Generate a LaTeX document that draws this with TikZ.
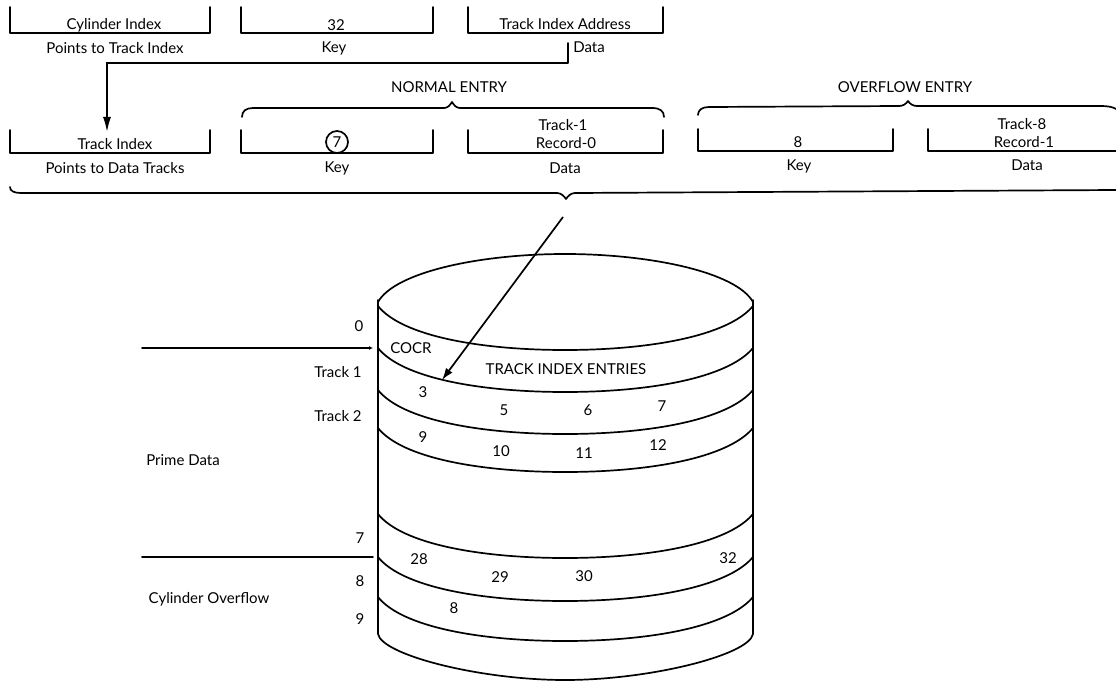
\documentclass[tikz,border=0pt]{standalone}
\usepackage{fontspec}
\setmainfont{Lato}
\usetikzlibrary{arrows.meta}
\tikzset{
  txt/.style={inner sep=0pt,font=\fontsize{15}{16}\selectfont},
  ln/.style={line width=1.7pt,line join=round,line cap=round},
  thin ln/.style={line width=1.6pt,line cap=round},
  cyl/.style={line width=1.7pt,line join=round},
  bigarrow/.style={line width=1.7pt,-{Latex[length=15pt,width=8pt]}}
}
\newcommand{\ubox}[4]{\draw[ln] (#1,#3) -- (#1,#4) -- (#2,#4) -- (#2,#3);}
\newcommand{\band}[1]{\draw[cyl] (378,#1) .. controls (402,#1+30) and (480,#1+44) .. (565,#1+44) .. controls (650,#1+44) and (728,#1+30) .. (753,#1);}
\begin{document}
\begin{tikzpicture}[x=1pt,y=-1pt]
\useasboundingbox (0,0) rectangle (1116,682);
% row 1
\ubox{10}{210}{7}{33}
\ubox{241}{433}{7}{33}
\ubox{468}{663}{7}{33}
\node[txt] (t1) at (114,25) {Cylinder Index};
\node[txt] (t2) at (336,25) {32};
\node[txt] (t3) at (565,24) {Track Index Address};
\node[txt] (l1) at (115,48) {Points to Track Index};
\node[txt] (l2) at (334,48) {Key};
\node[txt] (l3) at (589,47) {Data};
% row 2
\ubox{10}{210}{130}{153}
\ubox{241}{433}{130}{153}
\ubox{468}{663}{130}{153}
\ubox{698}{893}{129}{151}
\draw[ln] (928,129) -- (928,151) -- (1116,151);
\node[txt] (t4) at (115,144) {Track Index};
\node[txt,draw,circle,line width=1.7pt,minimum size=22pt,inner sep=0pt] (t5) at (337,142) {7};
\node[txt] (t6a) at (563,125) {Track-1};
\node[txt] (t6b) at (566,143) {Record-0};
\node[txt] (t7) at (798,142) {8};
\node[txt] (t8a) at (1022,124) {Track-8};
\node[txt] (t8b) at (1024,142) {Record-1};
\node[txt] (l4) at (115,168) {Points to Data Tracks};
\node[txt] (l5) at (337,168) {Key};
\node[txt] (l6) at (565,168) {Data};
\node[txt] (l7) at (799,166) {Key};
\node[txt] (l8) at (1027,165) {Data};
\node[txt] (normal) at (449,87) {NORMAL ENTRY};
\node[txt] (over) at (905,87) {OVERFLOW ENTRY};
% braces
\draw[ln] (242,117) .. controls (242,111) and (246,108) .. (253,108)
  -- (444,108) .. controls (448,108) and (450,105) .. (452,102)
  .. controls (454,105) and (456,108) .. (460,108)
  -- (652,108) .. controls (660,108) and (664,111) .. (664,117);
\draw[ln] (698,115) .. controls (698,110) and (702,107) .. (709,107)
  -- (899,106) .. controls (903,106) and (906,104) .. (908,101)
  .. controls (910,104) and (913,106) .. (917,106)
  -- (1100,106) .. controls (1108,106) and (1113,107) .. (1116,109);
\draw[ln] (10,187) .. controls (10,191) and (14,193) .. (21,193)
  -- (557,193) .. controls (561,193) and (564,196) .. (566,199)
  .. controls (568,196) and (571,193) .. (575,193)
  -- (1116,190);
% connector
\coordinate (tickT) at (568,43);
\coordinate (tickB) at (568,63);
\coordinate (tiTop) at (107,132);
\draw[ln] (tickT) -- (tickB);
\draw[bigarrow] (tickB) -| (tiTop);
% cylinder
\draw[cyl] (378,302) .. controls (395,272) and (480,254) .. (565,254) .. controls (650,254) and (736,272) .. (753,302);
\draw[cyl,line cap=round] (378,300) -- (378,634) .. controls (382,655) and (480,680) .. (565,680) .. controls (650,680) and (749,655) .. (753,634) -- (753,300);
\band{306}\band{348}\band{390}\band{428}\band{514}\band{557}\band{597}
% labels in cylinder
\node[txt] (cocr) at (411,348) {COCR};
\node[txt] (tie) at (566,369) {TRACK INDEX ENTRIES};
\node[txt] (n3) at (423,392) {3};
\node[txt] (n5) at (504,410) {5};
\node[txt] (n6) at (588,410) {6};
\node[txt] (n7) at (662,406) {7};
\node[txt] (n9) at (423,437) {9};
\node[txt] (n10) at (501,451) {10};
\node[txt] (n11) at (584,453) {11};
\node[txt] (n12) at (658,445) {12};
\node[txt] (n28) at (419,559) {28};
\node[txt] (n29) at (500,577) {29};
\node[txt] (n30) at (584,576) {30};
\node[txt] (n32) at (728,558) {32};
\node[txt] (n8) at (454,608) {8};
% left
\node[txt] (z0) at (359,326) {0};
\node[txt] (tr1) at (338,372) {Track 1};
\node[txt] (tr2) at (338,416) {Track 2};
\node[txt] (prime) at (183,460) {Prime Data};
\node[txt] (z7) at (360,538) {7};
\node[txt] (z8) at (360,581) {8};
\node[txt] (z9) at (360,619) {9};
\node[txt] (co) at (209,599) {Cylinder Overflow};
\coordinate (a1) at (142,348);
\coordinate (a2) at (373,348);
\coordinate (b1) at (142,557);
\coordinate (b2) at (373,557);
\draw[thin ln,-{Latex[length=4pt,width=4pt]}] (a1) -- (a2);
\draw[thin ln] (b1) -- (b2);
% index arrow
\coordinate (ia) at (563,217);
\coordinate (ib) at (442,380);
\draw[line width=1.7pt,-{Latex[length=12pt,width=8pt]}] (ia) -- (ib);
\end{tikzpicture}
\end{document}
